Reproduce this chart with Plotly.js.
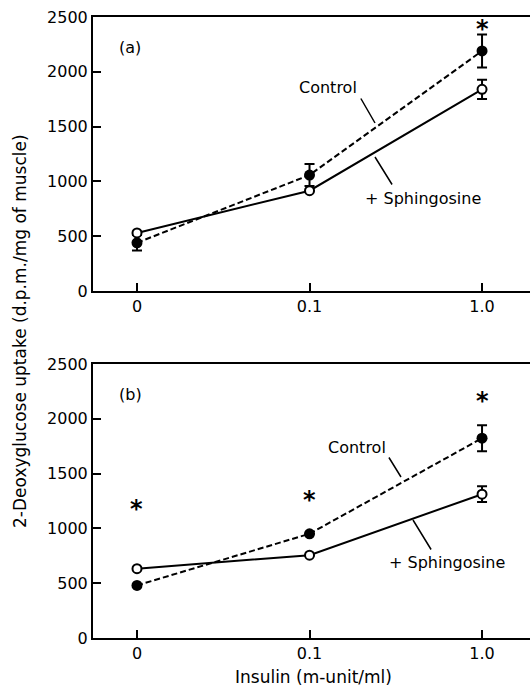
<!DOCTYPE html>
<html>
<head>
<meta charset="utf-8">
<script src="https://cdn.plot.ly/plotly-3.0.1.min.js"></script>
<style>html,body{margin:0;padding:0;overflow:hidden;background:#fff;width:530px;height:688px}</style>
</head>
<body>
<div id="chart" style="width:560px;height:688px"></div>
<script>
// ---- data ----
const insulinLabels = ['0', '0.1', '1.0'];
const insulinPos = [0, 1, 2];

// panel (a)
const aControl = [440, 1058, 2190];
const aControlErr = [70, 100, 150];
const aSphing = [530, 915, 1840];
const aSphingErr = [0, 0, 88];
const aStarX = [2];
const aStarY = [2427];

// panel (b)
const bControl = [480, 951, 1823];
const bControlErr = [0, 0, 118];
const bSphing = [632, 756, 1312];
const bSphingErr = [0, 0, 72];
const bStarX = [0, 1, 2];
const bStarY = [1209, 1300, 2202];

const FONT = 'DejaVu Sans, sans-serif';

function ctrl(y, err, xa, ya) {
  return {
    x: insulinPos, y: y, xaxis: xa, yaxis: ya, type: 'scatter', mode: 'lines+markers',
    line: {color: '#000', width: 2, dash: '6px,3px'},
    marker: {color: '#000', size: 11, symbol: 'circle'},
    error_y: {type: 'data', array: err, visible: true, color: '#000', thickness: 2, width: 5},
    showlegend: false, hoverinfo: 'skip'
  };
}
function sph(y, err, xa, ya) {
  return {
    x: insulinPos, y: y, xaxis: xa, yaxis: ya, type: 'scatter', mode: 'lines+markers',
    line: {color: '#000', width: 2},
    marker: {color: '#fff', size: 9, symbol: 'circle', line: {color: '#000', width: 2}},
    error_y: {type: 'data', array: err, visible: true, color: '#000', thickness: 2, width: 5},
    showlegend: false, hoverinfo: 'skip'
  };
}

const data = [
  ctrl(aControl, aControlErr, 'x', 'y'),
  sph(aSphing, aSphingErr, 'x', 'y'),
  ctrl(bControl, bControlErr, 'x2', 'y2'),
  sph(bSphing, bSphingErr, 'x2', 'y2')
];

// asterisks as annotations built from arrays
const stars = [];
const starFont = {family: 'DejaVu Sans, sans-serif', size: 24, color: '#000', weight: 'bold'};
aStarX.forEach((x, i) => stars.push({x: x, y: aStarY[i], xref: 'x', yref: 'y', text: '<b>*</b>', showarrow: false,
  font: starFont, yshift: -4}));
bStarX.forEach((x, i) => stars.push({x: x, y: bStarY[i], xref: 'x2', yref: 'y2', text: '<b>*</b>', showarrow: false,
  font: starFont, yshift: -4}));

// pixel helpers for labels (layout only)
const L = 93, W = 437, H = 688;
const px = v => (v - L) / W;
const py = v => 1 - v / H;
function label(t, x, y, size) {
  return {text: t, x: px(x), y: py(y), xref: 'paper', yref: 'paper', showarrow: false,
    font: {family: FONT, size: size || 16, color: '#000'}, xanchor: 'center', yanchor: 'middle'};
}
function pointer(x1, y1, x2, y2) {
  return {text: '', x: px(x2), y: py(y2), xref: 'paper', yref: 'paper', showarrow: true,
    arrowhead: 0, arrowwidth: 1.5, arrowcolor: '#000', ax: x1 - x2, ay: y1 - y2, standoff: 0, startstandoff: 0};
}

const annotations = stars.concat([
  label('(a)', 130, 47),
  label('Control', 328, 87),
  pointer(360, 97, 375, 123),
  label('+ Sphingosine', 423, 198),
  pointer(393, 186, 375, 157),
  label('(b)', 130, 394),
  label('Control', 357, 447),
  pointer(388, 456, 401, 477),
  label('+ Sphingosine', 447, 562),
  pointer(432, 551, 413, 520),
  Object.assign(label('2-Deoxyglucose uptake (d.p.m./mg of muscle)', 20, 331, 17), {textangle: -90}),
  label('Insulin (m-unit/ml)', 313, 677, 17)
]);

const xr = [-0.255, 2.278];
function xaxis(anchor) {
  return {
    anchor: anchor, domain: [0, 1], range: xr, tickvals: insulinPos, ticktext: insulinLabels,
    showline: true, linecolor: '#000', linewidth: 2, mirror: true,
    ticks: 'inside', ticklen: 8, tickwidth: 2, tickcolor: '#000',
    showgrid: false, zeroline: false, tickfont: {family: FONT, size: 16, color: '#000'}, fixedrange: true
  };
}
function yaxis(anchor, dom) {
  return {
    anchor: anchor, domain: dom, range: [0, 2500], tickvals: [0, 500, 1000, 1500, 2000, 2500],
    showline: true, linecolor: '#000', linewidth: 2,
    ticks: 'inside', ticklen: 8, tickwidth: 2, tickcolor: '#000',
    showgrid: false, zeroline: false, tickfont: {family: FONT, size: 16, color: '#000'}, fixedrange: true
  };
}

const layout = {
  width: 560, height: 688,
  margin: {l: 93, r: 30, t: 0, b: 0},
  paper_bgcolor: '#fff', plot_bgcolor: '#fff',
  xaxis: xaxis('y'),
  yaxis: yaxis('x', [1 - 291 / 688, 1 - 17 / 688]),
  xaxis2: xaxis('y2'),
  yaxis2: yaxis('x2', [1 - 638 / 688, 1 - 364 / 688]),
  annotations: annotations,
  showlegend: false
};

Plotly.newPlot('chart', data, layout, {displayModeBar: false, staticPlot: true});
</script>
</body>
</html>
